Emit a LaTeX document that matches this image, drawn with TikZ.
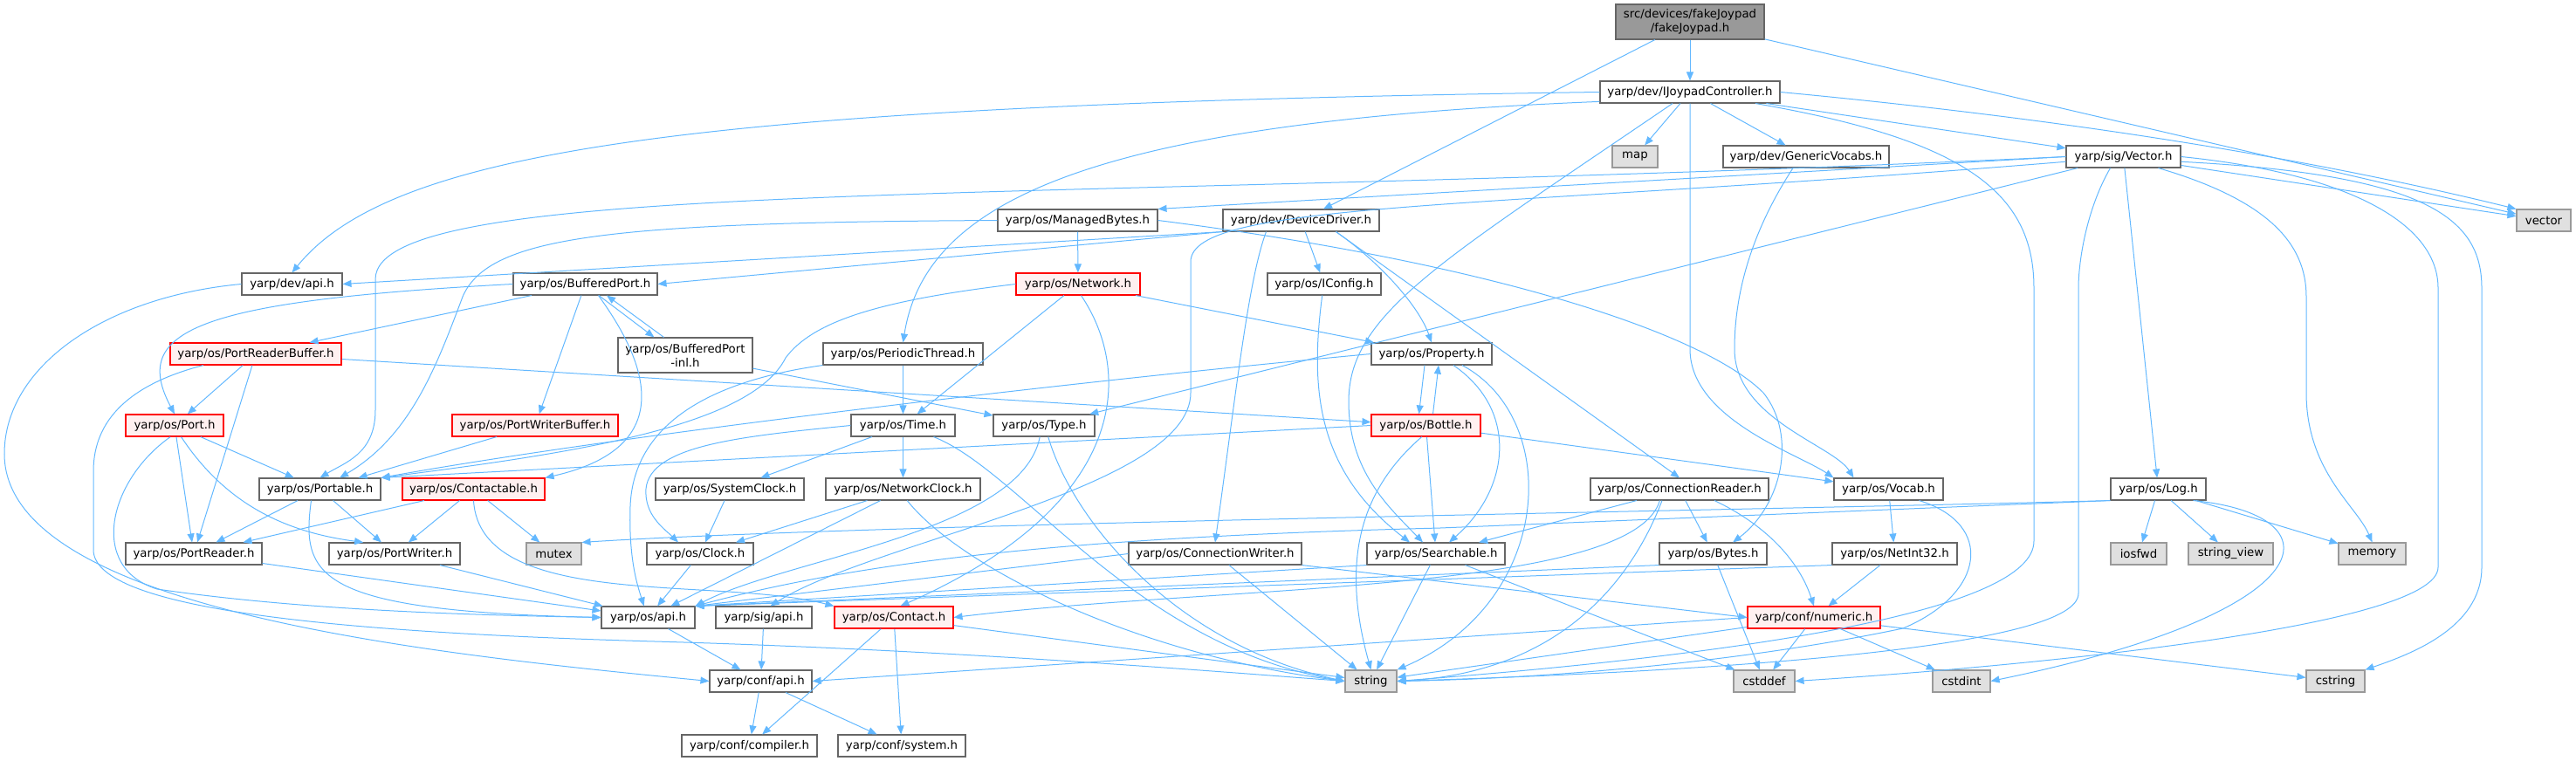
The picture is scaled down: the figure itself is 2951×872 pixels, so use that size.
\documentclass[tikz,border=0pt]{standalone}
\usepackage{fontspec}
\setmainfont{DejaVu Sans}
\usetikzlibrary{arrows.meta}
\definecolor{edgeblue}{HTML}{63B8FF}
\definecolor{boxline}{HTML}{666666}
\definecolor{redfill}{HTML}{FFF0F0}
\definecolor{sysfill}{HTML}{E0E0E0}
\definecolor{sysline}{HTML}{999999}
\definecolor{topfill}{HTML}{999999}
\begin{document}
\begin{tikzpicture}[x=1pt,y=-1pt,
    hdr/.style={draw=boxline,fill=white,line width=1.1pt,inner sep=0pt,minimum height=25pt,font=\fontsize{13.3}{16}\selectfont},
    redhdr/.style={hdr,draw=red,fill=redfill},
    syshdr/.style={hdr,draw=sysline,fill=sysfill},
    tophdr/.style={hdr,fill=topfill,minimum height=40pt,align=center},
    dep/.style={draw=edgeblue,line width=1pt,-{Triangle[length=10pt,width=8pt]}}]
\useasboundingbox (0,0) rectangle (2951,872);
\node[tophdr,minimum width=170] (fj) at (1936,25) {src/devices/fakeJoypad\\/fakeJoypad.h};
\node[hdr,minimum width=206] (ijc) at (1936,105.5) {yarp/dev/IJoypadController.h};
\node[syshdr,minimum width=52] (map) at (1873,179.5) {map};
\node[hdr,minimum width=190] (gvoc) at (2069,179.5) {yarp/dev/GenericVocabs.h};
\node[hdr,minimum width=131] (vech) at (2432.5,179.5) {yarp/sig/Vector.h};
\node[syshdr,minimum width=62] (vector) at (2914,252.5) {vector};
\node[hdr,minimum width=183] (mbytes) at (1234.5,252.5) {yarp/os/ManagedBytes.h};
\node[hdr,minimum width=179] (ddrv) at (1490.5,252.5) {yarp/dev/DeviceDriver.h};
\node[hdr,minimum width=115] (devapi) at (334.5,325.5) {yarp/dev/api.h};
\node[hdr,minimum width=165] (bport) at (670.5,325.5) {yarp/os/BufferedPort.h};
\node[redhdr,minimum width=142] (network) at (1235,325.5) {yarp/os/Network.h};
\node[hdr,minimum width=130] (iconfig) at (1517,325.5) {yarp/os/IConfig.h};
\node[redhdr,minimum width=196] (prbuf) at (293,405.5) {yarp/os/PortReaderBuffer.h};
\node[hdr,minimum width=154,minimum height=40,align=center] (bpinl) at (785,407) {yarp/os/BufferedPort\\-inl.h};
\node[hdr,minimum width=183] (pthread) at (1034.5,405.5) {yarp/os/PeriodicThread.h};
\node[hdr,minimum width=138] (property) at (1640,405.5) {yarp/os/Property.h};
\node[redhdr,minimum width=112] (port) at (200,487.5) {yarp/os/Port.h};
\node[redhdr,minimum width=190] (pwbuf) at (613,487.5) {yarp/os/PortWriterBuffer.h};
\node[hdr,minimum width=119] (time) at (1034.5,487.5) {yarp/os/Time.h};
\node[hdr,minimum width=116] (type) at (1196,487.5) {yarp/os/Type.h};
\node[redhdr,minimum width=125] (bottle) at (1633.5,487.5) {yarp/os/Bottle.h};
\node[hdr,minimum width=139] (portable) at (366.5,560.5) {yarp/os/Portable.h};
\node[redhdr,minimum width=163] (contactable) at (542.5,560.5) {yarp/os/Contactable.h};
\node[hdr,minimum width=170] (sysclock) at (836,560.5) {yarp/os/SystemClock.h};
\node[hdr,minimum width=177] (netclock) at (1034.5,560.5) {yarp/os/NetworkClock.h};
\node[hdr,minimum width=204] (connreader) at (1924,560.5) {yarp/os/ConnectionReader.h};
\node[hdr,minimum width=125] (vocab) at (2163.5,560.5) {yarp/os/Vocab.h};
\node[hdr,minimum width=109] (log) at (2472.5,560.5) {yarp/os/Log.h};
\node[hdr,minimum width=156] (preader) at (222,634.5) {yarp/os/PortReader.h};
\node[hdr,minimum width=150] (pwriter) at (452,634.5) {yarp/os/PortWriter.h};
\node[syshdr,minimum width=63] (mutex) at (634.5,634.5) {mutex};
\node[hdr,minimum width=122] (clock) at (802,634.5) {yarp/os/Clock.h};
\node[hdr,minimum width=198] (connwriter) at (1392,634.5) {yarp/os/ConnectionWriter.h};
\node[hdr,minimum width=158] (searchable) at (1645,634.5) {yarp/os/Searchable.h};
\node[hdr,minimum width=123] (bytes) at (1962.5,634.5) {yarp/os/Bytes.h};
\node[hdr,minimum width=143] (netint) at (2170.5,634.5) {yarp/os/NetInt32.h};
\node[syshdr,minimum width=64] (iosfwd) at (2450,634.5) {iosfwd};
\node[syshdr,minimum width=97] (strview) at (2555.5,634.5) {string\_view};
\node[syshdr,minimum width=77] (memory) at (2717.5,634.5) {memory};
\node[hdr,minimum width=107] (osapi) at (742.5,707.5) {yarp/os/api.h};
\node[hdr,minimum width=110] (sigapi) at (875,707.5) {yarp/sig/api.h};
\node[redhdr,minimum width=136] (contact) at (1024,707.5) {yarp/os/Contact.h};
\node[redhdr,minimum width=152] (numeric) at (2078,707.5) {yarp/conf/numeric.h};
\node[hdr,minimum width=117] (confapi) at (871.5,780.5) {yarp/conf/api.h};
\node[syshdr,minimum width=59] (string) at (1570.5,780.5) {string};
\node[syshdr,minimum width=70] (cstddef) at (2021,780.5) {cstddef};
\node[syshdr,minimum width=66] (cstdint) at (2247,780.5) {cstdint};
\node[syshdr,minimum width=67] (cstring) at (2675.5,780.5) {cstring};
\node[hdr,minimum width=155] (compiler) at (858.5,854.5) {yarp/conf/compiler.h};
\node[hdr,minimum width=146] (system) at (1033,854.5) {yarp/conf/system.h};
\draw[dep] (fj) -- (ijc);
\draw[dep] (fj) -- (ddrv);
\draw[dep] (fj) -- (vector);
\draw[dep] (ijc.west) .. controls (800,120) and (450,170) .. (devapi.north);
\draw[dep] (ijc.186) .. controls (1250,140) and (1060,230) .. (pthread.north);
\draw[dep] (ijc) -- (map);
\draw[dep] (ijc) -- (gvoc);
\draw[dep] (ijc) -- (vech);
\draw[dep] (ijc.east) .. controls (2300,130) and (2600,170) .. (vector.north west);
\draw[dep] (ijc.south) -- (1936,400) .. controls (1936,480) and (2060,520) .. (vocab.north west);
\draw[dep] ([xshift=75pt]ijc.south) .. controls (2250,160) and (2330,220) .. (2330,330) -- (2330,620) .. controls (2330,700) and (2000,750) .. (string.east);
\draw[dep] ([xshift=-20pt]ijc.south) .. controls (1650,300) and (1545,360) .. (1545,460) .. controls (1545,540) and (1590,580) .. ([xshift=-15pt]searchable.north);
\draw[dep] ([xshift=-15pt]gvoc.south) .. controls (2010,260) and (1987,330) .. (1987,400) .. controls (1987,480) and (2100,510) .. ([xshift=-40pt]vocab.north);
\draw[dep] (vech) -- (vector);
\draw[dep] (vech.west) -- (mbytes.north east);
\draw[dep] (vech) -- (type);
\draw[dep] (vech) -- (log);
\draw[dep] ([xshift=40pt]vech.south) .. controls (2600,230) and (2642,280) .. (2642,340) -- (2642,450) .. controls (2642,540) and (2700,580) .. (memory.north);
\draw[dep] (vech.east) .. controls (2700,200) and (2793,260) .. (2793,330) -- (2793,650) .. controls (2793,720) and (2300,765) .. (cstddef.east);
\draw[dep] (vech.-5) .. controls (2780,200) and (2843,250) .. (2843,330) -- (2843,650) .. controls (2843,720) and (2760,750) .. (cstring.north east);
\draw[dep] ([xshift=-15pt]vech.south) .. controls (2390,240) and (2381,300) .. (2381,330) -- (2381,680) .. controls (2381,740) and (2000,768) .. (string.east);
\draw[dep] (vech.west) .. controls (1200,235) and (430,200) .. (430,320) -- (430,470) .. controls (430,520) and (395,530) .. (portable.north);
\draw[dep] (vech.185) .. controls (1700,240) and (1364,230) .. (1364,300) -- (1364,450) .. controls (1364,560) and (1000,620) .. (sigapi.60);
\draw[dep] (mbytes) -- (network);
\draw[dep] (mbytes.west) .. controls (700,255) and (560,270) .. (530,340) .. controls (500,420) and (470,500) .. (portable.30);
\draw[dep] (mbytes.east) .. controls (1700,300) and (1950,380) .. (2020,450) .. controls (2060,500) and (2040,580) .. (bytes.30);
\draw[dep] (ddrv.south west) -- (devapi.east);
\draw[dep] (ddrv.south west) -- (bport.east);
\draw[dep] (ddrv) -- (iconfig);
\draw[dep] ([xshift=40pt]ddrv.south) .. controls (1580,300) and (1625,350) .. (property.north);
\draw[dep] ([xshift=40pt]ddrv.south) -- (connreader.north);
\draw[dep] ([xshift=-40pt]ddrv.south) .. controls (1430,320) and (1416,450) .. (connwriter.north);
\draw[dep] (devapi.west) .. controls (120,340) and (5,420) .. (5,520) .. controls (5,700) and (500,750) .. (confapi.west);
\draw[dep] (bport.west) .. controls (220,345) and (150,380) .. (port.north);
\draw[dep] (bport) -- (prbuf);
\draw[dep] (bport) -- (pwbuf);
\draw[dep] ([xshift=15pt]bport.south) .. controls (730,400) and (790,510) .. (contactable.north east);
\draw[dep] (bport.-40) -- (bpinl.150);
\draw[dep] (bpinl.140) -- (bport.-28);
\draw[dep] (bpinl) -- (type);
\draw[dep] (network.west) .. controls (1000,345) and (930,370) .. (900,410) .. controls (860,490) and (650,520) .. (portable.north east);
\draw[dep] (network) -- (time);
\draw[dep] (network.-75) .. controls (1300,430) and (1290,580) .. (contact.60);
\draw[dep] (network) -- (property);
\draw[dep] (iconfig.-100) .. controls (1500,450) and (1510,540) .. ([xshift=-30pt]searchable.north);
\draw[dep] (prbuf) -- (port);
\draw[dep] (prbuf) -- (preader);
\draw[dep] (prbuf) -- (bottle);
\draw[dep] ([xshift=-60pt]prbuf.south) .. controls (150,440) and (107,480) .. (107,540) -- (107,630) .. controls (107,700) and (400,725) .. (750,735) .. controls (1100,745) and (1400,770) .. (string.west);
\draw[dep] (pthread) -- (time);
\draw[dep] (pthread.south west) .. controls (790,440) and (725,500) .. (722,580) .. controls (720,640) and (730,670) .. (osapi.110);
\draw[dep] ([xshift=-8pt]property.south) -- ([xshift=-8pt]bottle.north);
\draw[dep] ([xshift=8pt]bottle.north) -- ([xshift=8pt]property.south);
\draw[dep] (property.west) .. controls (1200,440) and (700,500) .. (portable.north east);
\draw[dep] ([xshift=25pt]property.south) .. controls (1740,470) and (1730,560) .. ([xshift=15pt]searchable.north);
\draw[dep] ([xshift=35pt]property.south) .. controls (1790,480) and (1780,690) .. (string.north east);
\draw[dep] (port) -- (portable);
\draw[dep] (port) -- (preader);
\draw[dep] (port.-60) .. controls (260,580) and (330,610) .. (pwriter.160);
\draw[dep] (port.-110) .. controls (125,550) and (100,650) .. (180,675) .. controls (350,700) and (550,705) .. (osapi.west);
\draw[dep] (pwbuf) -- (portable);
\draw[dep] (time) -- (sysclock);
\draw[dep] (time) -- (netclock);
\draw[dep] (time.west) .. controls (850,500) and (745,510) .. (740,560) .. controls (738,590) and (760,605) .. ([xshift=-25pt]clock.north);
\draw[dep] ([xshift=35pt]time.south) .. controls (1170,540) and (1300,740) .. (string.west);
\draw[dep] (type.-110) .. controls (1170,610) and (900,640) .. (osapi.north east);
\draw[dep] (type.-70) .. controls (1230,600) and (1350,740) .. (string.west);
\draw[dep] (bottle) -- (searchable);
\draw[dep] (bottle.-110) .. controls (1560,560) and (1535,640) .. (string.north);
\draw[dep] (bottle) -- (vocab);
\draw[dep] (bottle.west) -- (portable.north east);
\draw[dep] (portable) -- (preader);
\draw[dep] (portable) -- (pwriter);
\draw[dep] ([xshift=-10pt]portable.south) .. controls (345,660) and (360,700) .. (osapi.west);
\draw[dep] (contactable) -- (preader);
\draw[dep] (contactable) -- (pwriter);
\draw[dep] (contactable) -- (mutex);
\draw[dep] (contactable.south) .. controls (550,700) and (820,660) .. (contact.north west);
\draw[dep] (sysclock) -- (clock);
\draw[dep] (netclock) -- (clock);
\draw[dep] (netclock) -- (osapi);
\draw[dep] (netclock.-70) .. controls (1100,650) and (1300,750) .. (string.west);
\draw[dep] (connreader) -- (searchable);
\draw[dep] (connreader.-150) .. controls (1870,680) and (1400,670) .. (contact.east);
\draw[dep] ([xshift=-20pt]connreader.south) .. controls (1875,650) and (1800,770) .. (string.east);
\draw[dep] (connreader) -- (bytes);
\draw[dep] ([xshift=40pt]connreader.south) .. controls (2020,600) and (2060,640) .. (numeric.north);
\draw[dep] (vocab) -- (netint);
\draw[dep] ([xshift=35pt]vocab.south) .. controls (2285,600) and (2275,680) .. (2180,720) .. controls (1980,762) and (1750,778) .. (string.east);
\draw[dep] (log.south west) -- (1650,605) .. controls (1250,615) and (1000,640) .. (osapi.north east);
\draw[dep] (log.south west) .. controls (2000,585) and (1000,600) .. (mutex.north east);
\draw[dep] (log) -- (iosfwd);
\draw[dep] (log) -- (strview);
\draw[dep] (log) -- (memory);
\draw[dep] ([xshift=40pt]log.south) .. controls (2680,590) and (2670,700) .. (cstdint.east);
\draw[dep] (preader) -- (osapi);
\draw[dep] (pwriter) -- (osapi);
\draw[dep] (clock) -- (osapi);
\draw[dep] (connwriter.west) -- (osapi.north east);
\draw[dep] (connwriter) -- (string);
\draw[dep] (connwriter.south east) -- (numeric.west);
\draw[dep] (searchable.south west) -- (osapi.north east);
\draw[dep] (searchable) -- (string);
\draw[dep] (searchable) -- (cstddef);
\draw[dep] (bytes.south west) -- (osapi.north east);
\draw[dep] (bytes) -- (cstddef);
\draw[dep] (netint) -- (numeric);
\draw[dep] (netint.south west) -- (osapi.north east);
\draw[dep] (osapi) -- (confapi);
\draw[dep] (sigapi) -- (confapi);
\draw[dep] (contact) -- (compiler);
\draw[dep] (contact) -- (system);
\draw[dep] (contact) -- (string);
\draw[dep] (numeric.west) -- (confapi.east);
\draw[dep] (numeric) -- (string);
\draw[dep] (numeric) -- (cstddef);
\draw[dep] (numeric) -- (cstdint);
\draw[dep] (numeric) -- (cstring);
\draw[dep] (confapi) -- (compiler);
\draw[dep] (confapi) -- (system);
\end{tikzpicture}
\end{document}
